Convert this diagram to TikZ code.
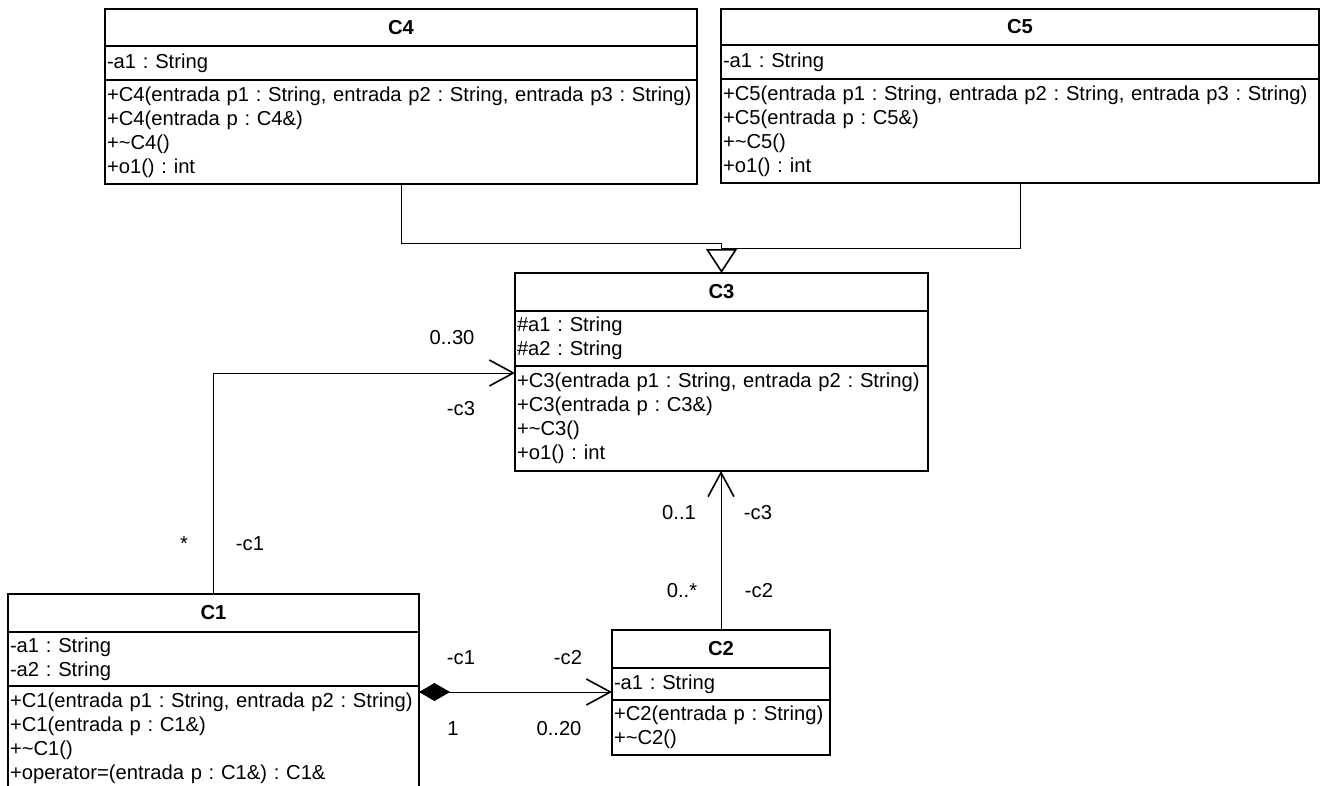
\documentclass[tikz,border=0pt]{standalone}
\usepackage{fontspec}
\setmainfont{Liberation Sans}
\usetikzlibrary{arrows.meta,positioning}
\frenchspacing

\begin{document}
\begin{tikzpicture}[
    x=1pt,y=-1pt,
    node distance=0pt,
    every node/.style={font=\fontsize{20.2}{24}\selectfont\frenchspacing},
    cname/.style={draw,line width=1.6pt,outer sep=0pt,inner sep=0pt,anchor=north west,
      minimum width=#1,font=\fontsize{20.2}{24}\selectfont\bfseries},
    cpart/.style={draw,line width=1.6pt,outer sep=0pt,inner xsep=2pt,inner ysep=0pt,
      text width=#1,align=left},
    link/.style={line width=1pt},
    nav/.style={link,-{Straight Barb[length=24pt,width=26pt,line width=1.6pt]}},
    gen/.style={link,-{Triangle[open,length=24pt,width=31pt,line width=1.6pt]}},
    comp/.style={link,{Diamond[length=31pt,width=18pt]}-{Straight Barb[length=24pt,width=26pt,line width=1.6pt]}},
    mult/.style={anchor=base}]
    \useasboundingbox (0,0) rectangle (1324,785);
    \node[cname=592pt,minimum height=37pt] (c4name) at (105,9) {C4};
    \node[cpart=588pt,minimum height=34pt,below=of c4name] (c4attr) {-a1 : String};
    \node[cpart=588pt,minimum height=104pt,below=of c4attr] (c4ops)
      {+C4(entrada p1 : String, entrada p2 : String, entrada p3 : String)\\
       +C4(entrada p : C4\&)\\+\textasciitilde C4()\\+o1() : int};
    \node[cname=598pt,minimum height=36pt] (c5name) at (721,9) {C5};
    \node[cpart=594pt,minimum height=34pt,below=of c5name] (c5attr) {-a1 : String};
    \node[cpart=594pt,minimum height=104pt,below=of c5attr] (c5ops)
      {+C5(entrada p1 : String, entrada p2 : String, entrada p3 : String)\\
       +C5(entrada p : C5\&)\\+\textasciitilde C5()\\+o1() : int};
    \node[cname=413pt,minimum height=38pt] (c3name) at (515,273) {C3};
    \node[cpart=409pt,minimum height=55pt,below=of c3name] (c3attr) {\#a1 : String\\\#a2 : String};
    \node[cpart=409pt,minimum height=105pt,below=of c3attr] (c3ops)
      {+C3(entrada p1 : String, entrada p2 : String)\\
       +C3(entrada p : C3\&)\\+\textasciitilde C3()\\+o1() : int};
    \node[cname=411pt,minimum height=38pt] (c1name) at (8,594) {C1};
    \node[cpart=407pt,minimum height=54pt,below=of c1name] (c1attr) {-a1 : String\\-a2 : String};
    \node[cpart=407pt,minimum height=105pt,below=of c1attr] (c1ops)
      {+C1(entrada p1 : String, entrada p2 : String)\\
       +C1(entrada p : C1\&)\\+\textasciitilde C1()\\+operator=(entrada p : C1\&) : C1\&};
    \node[cname=218pt,minimum height=38pt] (c2name) at (612,630) {C2};
    \node[cpart=214pt,minimum height=32pt,below=of c2name] (c2attr) {-a1 : String};
    \node[cpart=214pt,minimum height=55pt,below=of c2attr] (c2ops)
      {+C2(entrada p : String)\\+\textasciitilde C2()};
    \draw[gen] (c4ops.south) -- ++(0,59) -| (c3name.north);
    \draw[link] (c5ops.south) |- ([yshift=25pt]c3name.north);
    \draw[nav] (c1name.north) |- ([yshift=-7pt]c3ops.north west);
    \draw[nav] (c2name.north) -- (c2name.north |- c3ops.south);
    \coordinate (agg) at ([yshift=-6pt]c1ops.north east);
    \draw[comp] (agg) -- (agg -| c2attr.west);
    \node[mult] (m13a) at (452,344) {0..30};
    \node[mult] (r13a) at (461,415) {-c3};
    \node[mult] (m13b) at (184,550) {*};
    \node[mult] (r13b) at (250,550) {-c1};
    \node[mult] (m23a) at (679,519) {0..1};
    \node[mult] (r23a) at (758,519) {-c3};
    \node[mult] (m23b) at (682,597) {0..*};
    \node[mult] (r23b) at (759,597) {-c2};
    \node[mult] (r12a) at (461,664) {-c1};
    \node[mult] (r12b) at (568,664) {-c2};
    \node[mult] (m12a) at (453,735) {1};
    \node[mult] (m12b) at (559,735) {0..20};
\end{tikzpicture}
\end{document}
